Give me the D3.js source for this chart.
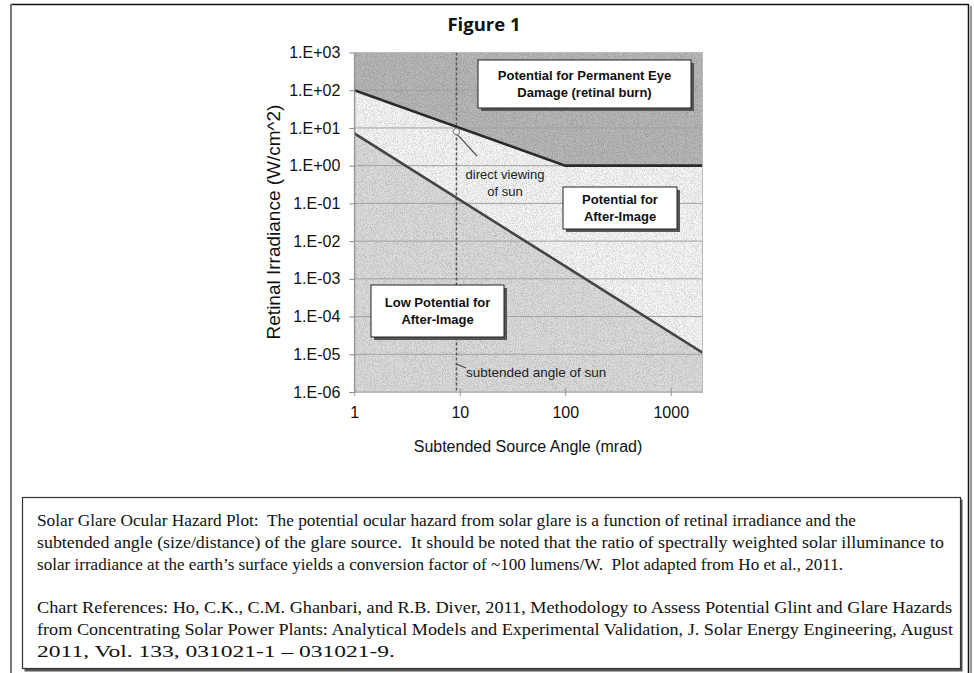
<!DOCTYPE html>
<html>
<head>
<meta charset="utf-8">
<script src="https://cdn.jsdelivr.net/npm/d3@7"></script>
<style>
  body { margin: 0; background: #fff; }
  svg { display: block; }
  .tick text { font-family: "Liberation Sans", Arial, sans-serif; font-size: 16px; fill: #111; }
</style>
</head>
<body>
<div id="chart-container"></div>
<script>
// --- data ---
var yTicks = [1e3, 1e2, 1e1, 1e0, 1e-1, 1e-2, 1e-3, 1e-4, 1e-5, 1e-6];
var xTicks = [1, 10, 100, 1000];

// retinal burn threshold (upper boundary)
var burnAngle = [1, 100, 2000];
var burnIrradiance = [100, 1, 1];

// after-image threshold (lower boundary)
var afterAngle = [1, 2000];
var afterIrradiance = [7.2, 1.1e-5];

// sun
var sunAngle = 9.3;
var sunIrradiance = 8;

var regionLabels = [
  {lines: ["Potential for Permanent Eye", "Damage (retinal burn)"], box: [478, 60, 213, 48]},
  {lines: ["Potential for", "After-Image"], box: [563, 187, 114, 42]},
  {lines: ["Low Potential for", "After-Image"], box: [371, 285, 133, 52]}
];

var captionLines = [
  "Solar Glare Ocular Hazard Plot:  The potential ocular hazard from solar glare is a function of retinal irradiance and the",
  "subtended angle (size/distance) of the glare source.  It should be noted that the ratio of spectrally weighted solar illuminance to",
  "solar irradiance at the earth\u2019s surface yields a conversion factor of ~100 lumens/W.  Plot adapted from Ho et al., 2011.",
  "",
  "Chart References: Ho, C.K., C.M. Ghanbari, and R.B. Diver, 2011, Methodology to Assess Potential Glint and Glare Hazards",
  "from Concentrating Solar Power Plants: Analytical Models and Experimental Validation, J. Solar Energy Engineering, August",
  "2011, Vol. 133, 031021-1 \u2013 031021-9."
];
// right end of each caption line in the scan
var captionEnds = [856, 944, 843, 0, 952, 953, 395];

var W = 974, H = 673;
var plot = {left: 354.3, right: 702.5, top: 52.5, bottom: 392};
var sans = "'Liberation Sans', Arial, sans-serif";

var svg = d3.select("#chart-container").append("svg")
  .attr("width", W).attr("height", H);

var defs = svg.append("defs");

// speckle texture like the scanned stipple
var f = defs.append("filter").attr("id", "speckle")
  .attr("x", 0).attr("y", 0).attr("width", "100%").attr("height", "100%");
f.append("feTurbulence").attr("type", "fractalNoise").attr("baseFrequency", 1.1)
  .attr("numOctaves", 2).attr("seed", 4).attr("result", "noise");
f.append("feColorMatrix").attr("in", "noise").attr("type", "matrix")
  .attr("values", "0 0 0 0 0  0 0 0 0 0  0 0 0 0 0  -4 0 0 0 2.3").attr("result", "dots");
f.append("feComposite").attr("in", "dots").attr("in2", "SourceGraphic").attr("operator", "in");

defs.append("clipPath").attr("id", "plotclip").append("rect")
  .attr("x", plot.left).attr("y", plot.top)
  .attr("width", plot.right - plot.left).attr("height", plot.bottom - plot.top);

var x = d3.scaleLog().domain([1, 2000]).range([plot.left, plot.right]);
var y = d3.scaleLog().domain([1e-6, 1e3]).range([plot.bottom, plot.top]);

// page frame
svg.append("line").attr("x1", 11).attr("x2", 969).attr("y1", 4.5).attr("y2", 4.5)
  .attr("stroke", "#111").attr("stroke-width", 1.5);
svg.append("line").attr("x1", 11).attr("x2", 11).attr("y1", 4).attr("y2", H)
  .attr("stroke", "#777").attr("stroke-width", 2);
svg.append("line").attr("x1", 971).attr("x2", 971).attr("y1", 6).attr("y2", H)
  .attr("stroke", "#999").attr("stroke-width", 2);
svg.append("line").attr("x1", 968.5).attr("x2", 968.5).attr("y1", 4).attr("y2", H)
  .attr("stroke", "#111").attr("stroke-width", 1.5);

// title
svg.append("text").attr("x", 484).attr("y", 31).attr("text-anchor", "middle")
  .style("font-family", "'Open Sans', sans-serif").style("font-weight", "bold")
  .style("font-size", "18.5px").attr("fill", "#111").text("Figure 1");

// regions
var burnData = burnAngle.map(function(a, i) { return {a: a, e: burnIrradiance[i]}; });
var afterData = afterAngle.map(function(a, i) { return {a: a, e: afterIrradiance[i]}; });

var area = d3.area()
  .x(function(d) { return x(d.a); })
  .y0(plot.bottom)
  .y1(function(d) { return y(d.e); });
var line = d3.line()
  .x(function(d) { return x(d.a); })
  .y(function(d) { return y(d.e); });

var g = svg.append("g").attr("clip-path", "url(#plotclip)");

g.append("rect").attr("x", plot.left).attr("y", plot.top)
  .attr("width", plot.right - plot.left).attr("height", plot.bottom - plot.top)
  .attr("fill", "#b8b8b8");
g.append("path").datum(burnData).attr("d", area).attr("fill", "#f6f6f6");
g.append("path").datum(afterData).attr("d", area).attr("fill", "#dcdcdc");

// stipple overlay
g.append("rect").attr("x", plot.left).attr("y", plot.top)
  .attr("width", plot.right - plot.left).attr("height", plot.bottom - plot.top)
  .attr("fill", "#000").attr("opacity", 0.13).attr("filter", "url(#speckle)");

// horizontal gridlines
g.selectAll("line.grid").data(yTicks).enter().append("line")
  .attr("class", "grid")
  .attr("x1", plot.left).attr("x2", plot.right)
  .attr("y1", function(d) { return y(d); }).attr("y2", function(d) { return y(d); })
  .attr("stroke", "#a0a0a0").attr("stroke-width", 1);

// subtended angle of sun
g.append("line")
  .attr("x1", x(sunAngle)).attr("x2", x(sunAngle))
  .attr("y1", plot.top).attr("y2", plot.bottom)
  .attr("stroke", "#555").attr("stroke-width", 1.5).attr("stroke-dasharray", "3,2");

// threshold lines
g.append("path").datum(burnData).attr("d", line)
  .attr("fill", "none").attr("stroke", "#2a2a2a").attr("stroke-width", 2.6);
g.append("path").datum(afterData).attr("d", line)
  .attr("fill", "none").attr("stroke", "#444").attr("stroke-width", 2.6);

// plot border
svg.append("rect").attr("x", plot.left).attr("y", plot.top)
  .attr("width", plot.right - plot.left).attr("height", plot.bottom - plot.top)
  .attr("fill", "none").attr("stroke", "#bbb").attr("stroke-width", 1);

// axes
function sci(d) {
  var e = Math.round(Math.log10(d));
  return "1.E" + (e < 0 ? "-" : "+") + (Math.abs(e) < 10 ? "0" : "") + Math.abs(e);
}

var yAxis = d3.axisLeft(y).tickValues(yTicks).tickFormat(sci)
  .tickSize(5).tickSizeOuter(0).tickPadding(9);
var yg = svg.append("g").attr("transform", "translate(" + plot.left + ",0)").call(yAxis);
yg.select(".domain").attr("stroke", "#888");
yg.selectAll(".tick line").attr("stroke", "#888");

var xAxis = d3.axisBottom(x).tickValues(xTicks).tickFormat(d3.format("d"))
  .tickSize(4).tickSizeOuter(0).tickPadding(11);
var xg = svg.append("g").attr("transform", "translate(0," + plot.bottom + ")").call(xAxis);
xg.select(".domain").attr("stroke", "#bbb");
xg.selectAll(".tick line").attr("stroke", "#999").attr("y1", -4);

// axis titles
svg.append("text").attr("x", 528).attr("y", 452).attr("text-anchor", "middle")
  .style("font-family", sans).style("font-size", "16px").attr("fill", "#111")
  .text("Subtended Source Angle (mrad)");
svg.append("text").attr("transform", "translate(280,222) rotate(-90)")
  .attr("text-anchor", "middle")
  .style("font-family", sans).style("font-size", "19px").attr("fill", "#111")
  .text("Retinal Irradiance (W/cm^2)");

// sun point + annotations
svg.append("line").attr("x1", x(sunAngle) + 1).attr("y1", y(sunIrradiance) + 3)
  .attr("x2", 477).attr("y2", 156).attr("stroke", "#555").attr("stroke-width", 1.2);
svg.append("circle").attr("cx", x(sunAngle)).attr("cy", y(sunIrradiance)).attr("r", 3.2)
  .attr("fill", "#eee").attr("stroke", "#777").attr("stroke-width", 1);

svg.append("text").attr("x", 505).attr("y", 179).attr("text-anchor", "middle")
  .style("font-family", sans).style("font-size", "13px").attr("fill", "#222")
  .text("direct viewing");
svg.append("text").attr("x", 505).attr("y", 196).attr("text-anchor", "middle")
  .style("font-family", sans).style("font-size", "13px").attr("fill", "#222")
  .text("of sun");

svg.append("line").attr("x1", x(sunAngle)).attr("y1", 364)
  .attr("x2", 466).attr("y2", 368).attr("stroke", "#444").attr("stroke-width", 1.2);
svg.append("text").attr("x", 466).attr("y", 377)
  .style("font-family", sans).style("font-size", "13.5px").attr("fill", "#222")
  .text("subtended angle of sun");

// region label boxes
regionLabels.forEach(function(r) {
  var bx = r.box[0], by = r.box[1], bw = r.box[2], bh = r.box[3];
  svg.append("rect").attr("x", bx + 3).attr("y", by + 3).attr("width", bw).attr("height", bh)
    .attr("fill", "#555");
  svg.append("rect").attr("x", bx).attr("y", by).attr("width", bw).attr("height", bh)
    .attr("fill", "#fff").attr("stroke", "#222").attr("stroke-width", 1);
  var lh = 17;
  var y0 = by + bh / 2 - lh * (r.lines.length - 1) / 2;
  r.lines.forEach(function(t, i) {
    svg.append("text").attr("x", bx + bw / 2).attr("y", y0 + i * lh)
      .attr("dy", "0.35em").attr("text-anchor", "middle")
      .style("font-family", sans).style("font-weight", "bold").style("font-size", "13px")
      .attr("fill", "#111").text(t);
  });
});

// caption box
svg.append("rect").attr("x", 24.5).attr("y", 499.5).attr("width", 938).attr("height", 172)
  .attr("fill", "#555");
svg.append("rect").attr("x", 22.5).attr("y", 497.5).attr("width", 938).attr("height", 171)
  .attr("fill", "#fff").attr("stroke", "#333").attr("stroke-width", 1.2);

var cap = svg.append("g").style("font-family", "'Liberation Serif', 'Times New Roman', serif")
  .style("font-size", "17px").attr("fill", "#111");
captionLines.forEach(function(t, i) {
  if (!t) return;
  cap.append("text").attr("x", 37).attr("y", 526 + i * 21.8)
    .attr("xml:space", "preserve").style("white-space", "pre")
    .attr("textLength", captionEnds[i] - 37).attr("lengthAdjust", "spacingAndGlyphs")
    .text(t);
});
</script>
</body>
</html>
